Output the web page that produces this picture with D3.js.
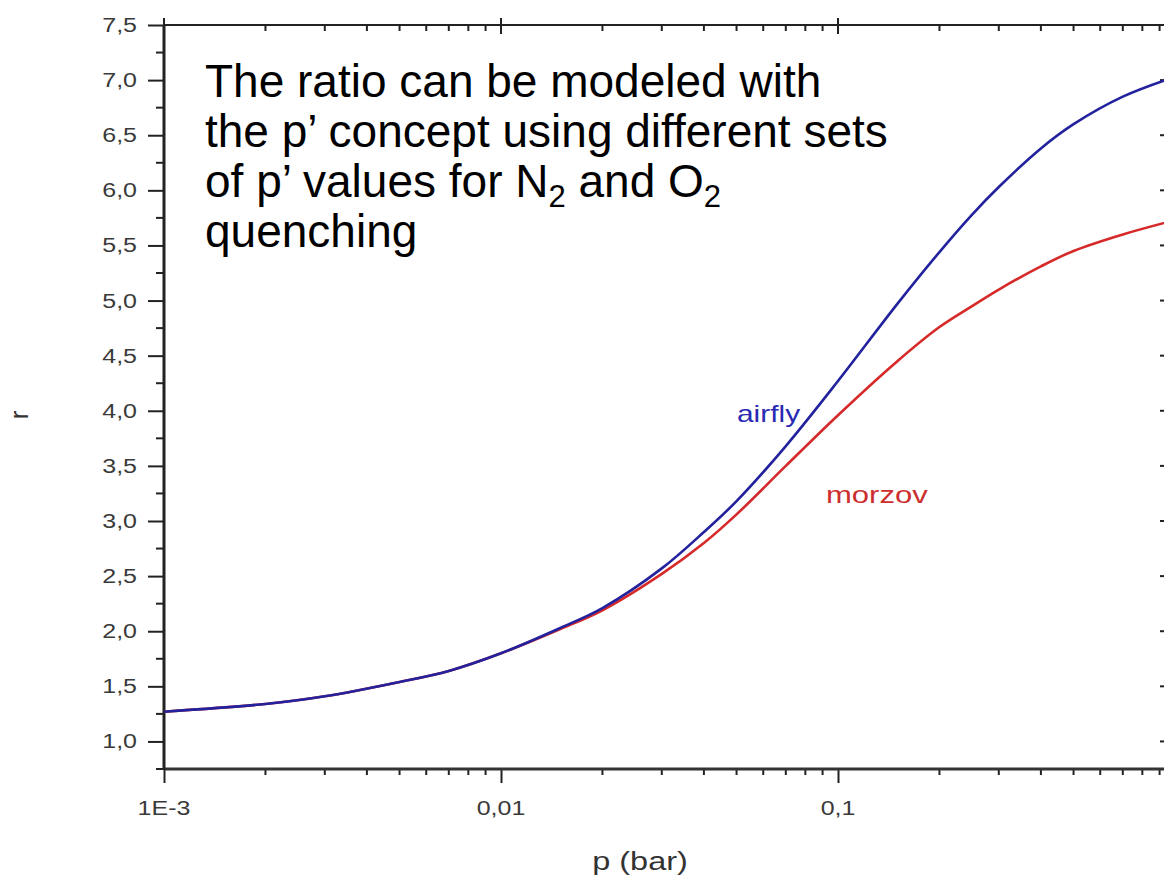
<!DOCTYPE html>
<html>
<head>
<meta charset="utf-8">
<script src="https://cdn.jsdelivr.net/npm/d3@7"></script>
<style>
  html, body { margin: 0; padding: 0; background: #fff; }
  svg { display: block; }
  text { font-family: "Liberation Sans", Arial, sans-serif; }
</style>
</head>
<body>
<svg id="chart" width="1164" height="890"></svg>
<script>
// Pressure grid (bar) and the modelled ratio r for each quenching data set
const pressure = [0.001, 0.002, 0.003, 0.005, 0.007, 0.01, 0.015, 0.02, 0.03, 0.04, 0.05, 0.07, 0.1, 0.15, 0.2, 0.25, 0.3, 0.4, 0.5, 0.7, 1.0];
const airfly   = [1.27, 1.34, 1.41, 1.54, 1.64, 1.80, 2.03, 2.21, 2.57, 2.90, 3.18, 3.68, 4.27, 4.97, 5.44, 5.78, 6.03, 6.38, 6.60, 6.85, 7.03];
const morzov   = [1.27, 1.34, 1.41, 1.54, 1.64, 1.80, 2.02, 2.19, 2.52, 2.80, 3.06, 3.50, 3.96, 4.45, 4.76, 4.95, 5.10, 5.31, 5.45, 5.60, 5.73];

const xTickValues = [0.001, 0.01, 0.1];
const xTickLabels = ["1E-3", "0,01", "0,1"];
const yTickValues = [1.0, 1.5, 2.0, 2.5, 3.0, 3.5, 4.0, 4.5, 5.0, 5.5, 6.0, 6.5, 7.0, 7.5];

const annotationLines = [
  [{t: "The ratio can be modeled with"}],
  [{t: "the p\u2019 concept using different sets"}],
  [{t: "of p\u2019 values for N"}, {t: "2", sub: true}, {t: " and O"}, {t: "2", sub: true}],
  [{t: "quenching"}]
];

(function () {
const svg = d3.select("#chart");
const plotLeft = 164, plotRight = 1175, plotTop = 25, plotBottom = 769;
const stretch = 1.25;   // tick labels are set wide

const x = d3.scaleLog().domain([0.001, 1]).range([plotLeft, plotRight]);
const y = d3.scaleLinear().domain([0.75, 7.5]).range([plotBottom, plotTop]);

const axisColor = "#222";

// text helper: horizontally widened glyphs anchored at (tx, ty)
function label(parent, tx, ty, str, size, anchor, fill, sx) {
  return parent.append("text")
    .attr("transform", `translate(${tx},${ty}) scale(${sx},1)`)
    .attr("text-anchor", anchor)
    .attr("font-size", size)
    .attr("fill", fill)
    .text(str);
}

// minor tick positions
const xMinor = [];
for (let d = 0.001; d < 1; d *= 10) {
  for (let k = 2; k <= 9; k++) xMinor.push(d * k);
}
const yMinor = [];
for (let v = 0.75; v <= 7.5001; v += 0.25) {
  if (Math.abs(v * 2 - Math.round(v * 2)) > 1e-6) yMinor.push(+v.toFixed(2));
}

// bottom axis ticks (outward)
const gBottom = svg.append("g").attr("transform", `translate(0,${plotBottom})`)
  .call(d3.axisBottom(x).tickValues(xTickValues).tickFormat("").tickSize(14));
gBottom.select(".domain").remove();
gBottom.selectAll(".tick line").attr("stroke", axisColor).attr("stroke-width", 2);
svg.append("g").selectAll("line").data(xMinor).join("line")
  .attr("x1", d => x(d)).attr("x2", d => x(d))
  .attr("y1", plotBottom).attr("y2", plotBottom + 6)
  .attr("stroke", axisColor).attr("stroke-width", 2);
const gxLab = svg.append("g");
xTickValues.forEach((v, i) => label(gxLab, x(v), 815, xTickLabels[i], 20, "middle", "#3a3a3a", stretch));

// top axis (ticks inward)
svg.append("g").selectAll("line").data(xTickValues).join("line")
  .attr("x1", d => x(d)).attr("x2", d => x(d))
  .attr("y1", plotTop - 7).attr("y2", plotTop + 9)
  .attr("stroke", axisColor).attr("stroke-width", 2);
svg.append("g").selectAll("line").data(xMinor).join("line")
  .attr("x1", d => x(d)).attr("x2", d => x(d))
  .attr("y1", plotTop).attr("y2", plotTop + 6)
  .attr("stroke", axisColor).attr("stroke-width", 2);

// left axis (ticks outward)
const gLeft = svg.append("g").attr("transform", `translate(${plotLeft},0)`)
  .call(d3.axisLeft(y).tickValues(yTickValues).tickFormat("").tickSize(16));
gLeft.select(".domain").remove();
gLeft.selectAll(".tick line").attr("stroke", axisColor).attr("stroke-width", 2);
svg.append("g").selectAll("line").data(yMinor).join("line")
  .attr("x1", plotLeft - 8).attr("x2", plotLeft)
  .attr("y1", d => y(d)).attr("y2", d => y(d))
  .attr("stroke", axisColor).attr("stroke-width", 2);
const gyLab = svg.append("g");
yTickValues.forEach(v => label(gyLab, 137, y(v) + 7, d3.format(".1f")(v).replace(".", ","), 20, "end", "#3a3a3a", stretch));

// right axis (ticks inward)
svg.append("g").selectAll("line").data(yTickValues).join("line")
  .attr("x1", plotRight - 15).attr("x2", plotRight)
  .attr("y1", d => y(d)).attr("y2", d => y(d))
  .attr("stroke", axisColor).attr("stroke-width", 2);
svg.append("g").selectAll("line").data(yMinor).join("line")
  .attr("x1", plotRight - 8).attr("x2", plotRight)
  .attr("y1", d => y(d)).attr("y2", d => y(d))
  .attr("stroke", axisColor).attr("stroke-width", 2);

// frame
svg.append("line").attr("x1", plotLeft).attr("x2", plotRight).attr("y1", plotTop).attr("y2", plotTop)
  .attr("stroke", axisColor).attr("stroke-width", 2);
svg.append("line").attr("x1", plotLeft).attr("x2", plotRight).attr("y1", plotBottom).attr("y2", plotBottom)
  .attr("stroke", "#333").attr("stroke-width", 3);
svg.append("line").attr("x1", plotLeft).attr("x2", plotLeft).attr("y1", plotTop).attr("y2", plotBottom + 1)
  .attr("stroke", axisColor).attr("stroke-width", 3);
svg.append("line").attr("x1", plotRight).attr("x2", plotRight).attr("y1", plotTop).attr("y2", plotBottom)
  .attr("stroke", axisColor).attr("stroke-width", 2);

// curves
const line = d3.line().curve(d3.curveCatmullRom.alpha(0.5));
const pts = vals => pressure.map((p, i) => [x(p), y(vals[i])]);
svg.append("path").attr("d", line(pts(morzov)))
  .attr("fill", "none").attr("stroke", "#d62a2a").attr("stroke-width", 2.6);
svg.append("path").attr("d", line(pts(airfly)))
  .attr("fill", "none").attr("stroke", "#22229e").attr("stroke-width", 2.6);

// curve labels
label(svg, 737, 422, "airfly", 23, "start", "#2a2ab4", 1.3);
label(svg, 826, 503, "morzov", 23, "start", "#cc2e2e", 1.35);

// axis titles
label(svg, 640, 870, "p (bar)", 25, "middle", "#333", 1.3);
svg.append("text").attr("transform", "translate(28,415) rotate(-90)")
  .attr("text-anchor", "middle").attr("font-size", 26).attr("fill", "#333").text("r");

// annotation
const ann = svg.append("text")
  .attr("transform", "translate(205,0)")
  .attr("font-size", 46).attr("fill", "#000");
annotationLines.forEach((parts, i) => {
  const base = 97 + i * 50;
  parts.forEach((p, j) => {
    const ts = ann.append("tspan").text(p.t);
    if (j === 0) ts.attr("x", 0);
    ts.attr("y", p.sub ? base + 10 : base);
    if (p.sub) ts.attr("font-size", 31);
  });
});
})();
</script>
</body>
</html>
